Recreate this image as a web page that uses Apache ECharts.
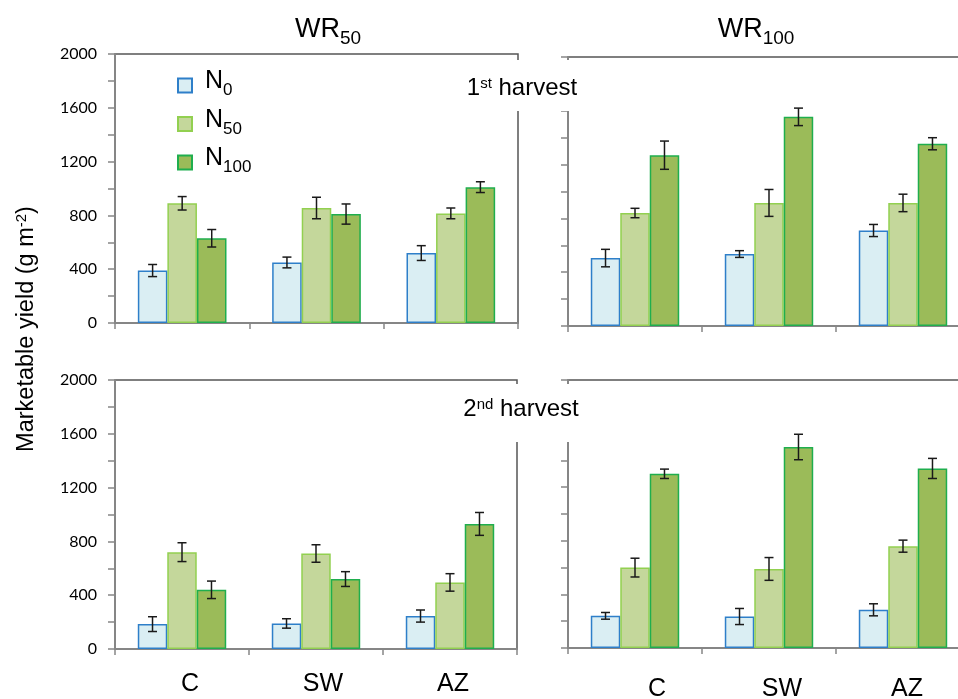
<!DOCTYPE html>
<html>
<head>
<meta charset="utf-8">
<title>Marketable yield</title>
<script src="https://cdn.jsdelivr.net/npm/echarts@6/dist/echarts.min.js"></script>
<style>
  html, body { margin: 0; padding: 0; background: #fff; }
  #chart { width: 958px; height: 699px; }
</style>
</head>
<body>
<div id="chart"></div>
<script>
// categories and N levels
const categories = ['C', 'SW', 'AZ'];
const levels = ['N0', 'N50', 'N100'];

// rows: N0, N50, N100 ; columns: C, SW, AZ
const wr50h1Mean = [[390, 450, 520], [890, 855, 815], [630, 810, 1010]];
const wr50h1Err = [[45, 40, 55], [50, 80, 40], [65, 75, 40]];
const wr100h1Mean = [[505, 535, 710], [840, 915, 915], [1270, 1555, 1355]];
const wr100h1Err = [[65, 25, 45], [35, 100, 65], [105, 65, 45]];
const wr50h2Mean = [[185, 190, 245], [720, 710, 495], [440, 520, 930]];
const wr50h2Err = [[55, 35, 45], [70, 65, 65], [65, 55, 85]];
const wr100h2Mean = [[240, 235, 285], [600, 590, 760], [1300, 1500, 1340]];
const wr100h2Err = [[25, 60, 45], [70, 85, 45], [35, 95, 75]];

const yMax = 2000;
const yStep = 400;

const fills = ['#DAEEF3', '#C4D79B', '#9BBB59'];
const borders = ['#2E7FC9', '#92D050', '#1FAE4E'];
const axisGray = '#868686';
const frameGray = '#555555';
const numFont = 'Lato';
const txtFont = '"Liberation Sans", Arial, sans-serif';

const panels = [
  { mean: wr50h1Mean, err: wr50h1Err, grid: { left: 115, top: 54, width: 403, height: 269 }, yLab: true, xLab: null },
  { mean: wr100h1Mean, err: wr100h1Err, grid: { left: 568, top: 57, width: 402, height: 269 }, yLab: false, xLab: null },
  { mean: wr50h2Mean, err: wr50h2Err, grid: { left: 115, top: 380, width: 402, height: 269 }, yLab: true, xLab: { margin: 23, shift: [16, 14, 6] } },
  { mean: wr100h2Mean, err: wr100h2Err, grid: { left: 568, top: 380, width: 402, height: 268 }, yLab: false, xLab: { margin: 29, shift: [44, 26, 8] } }
];

const BAR_FRAC = 0.22;

function errorItem(params, api) {
  const cat = api.value(0), val = api.value(1), e = api.value(2), k = api.value(3);
  const band = api.size([1, 0])[0];
  const x = api.coord([cat, val])[0] + (k - 1) * band * BAR_FRAC;
  const hi = api.coord([cat, val + e])[1];
  const lo = api.coord([cat, val - e])[1];
  const st = { stroke: '#1a1a1a', lineWidth: 1.5 };
  const cap = 4.5;
  return {
    type: 'group',
    children: [
      { type: 'line', shape: { x1: x, y1: hi, x2: x, y2: lo }, style: st },
      { type: 'line', shape: { x1: x - cap, y1: hi, x2: x + cap, y2: hi }, style: st },
      { type: 'line', shape: { x1: x - cap, y1: lo, x2: x + cap, y2: lo }, style: st }
    ]
  };
}

const grids = [], xAxes = [], yAxes = [], series = [];

panels.forEach(function (p, gi) {
  grids.push(Object.assign({
    show: true, borderColor: frameGray, borderWidth: 1.5,
    backgroundColor: 'transparent', containLabel: false, outerBoundsMode: 'none'
  }, p.grid));

  const xRich = {};
  if (p.xLab) {
    p.xLab.shift.forEach(function (s, i) {
      xRich['c' + i] = { fontSize: 25, fontFamily: txtFont, color: '#000', padding: [0, 0, 0, s] };
    });
  }
  xAxes.push({
    type: 'category', gridIndex: gi, data: categories,
    axisLine: { show: true, lineStyle: { color: axisGray, width: 2 } },
    axisTick: { show: true, length: 6, lineStyle: { color: axisGray, width: 1.5 } },
    axisLabel: p.xLab ? {
      show: true, margin: p.xLab.margin,
      formatter: function (v, i) { return '{c' + i + '|' + v + '}'; },
      rich: xRich
    } : { show: false },
    splitLine: { show: false }
  });

  yAxes.push({
    type: 'value', gridIndex: gi, min: 0, max: yMax, interval: yStep,
    axisLine: { show: true, lineStyle: { color: axisGray, width: 2 } },
    axisTick: { show: true, length: 7, lineStyle: { color: axisGray, width: 1.5 } },
    minorTick: { show: true, splitNumber: 2, length: 7, lineStyle: { color: axisGray, width: 1.5 } },
    axisLabel: {
      show: p.yLab, margin: 18, fontSize: 16, fontFamily: numFont, color: '#000',
      formatter: function (v) { return String(v); }
    },
    splitLine: { show: false },
    minorSplitLine: { show: false }
  });

  levels.forEach(function (name, k) {
    series.push({
      type: 'bar', name: name, xAxisIndex: gi, yAxisIndex: gi,
      data: p.mean[k],
      barWidth: (BAR_FRAC * 100) + '%', barGap: '0%',
      itemStyle: { color: fills[k], borderColor: borders[k], borderWidth: 1.5 },
      emphasis: { disabled: true }
    });
  });

  const errData = [];
  levels.forEach(function (name, k) {
    categories.forEach(function (c, j) {
      errData.push([j, p.mean[k][j], p.err[k][j], k]);
    });
  });
  series.push({
    type: 'custom', xAxisIndex: gi, yAxisIndex: gi, z: 10,
    renderItem: errorItem, encode: { x: 0, y: 1 }, data: errData, silent: true
  });
});

const titleRich = {
  m: { fontSize: 27, fontFamily: txtFont, fill: '#000' },
  s: { fontSize: 19, fontFamily: txtFont, fill: '#000', padding: [18, 0, 0, 0] }
};
const harvRich = {
  n: { fontSize: 24, lineHeight: 24, fontFamily: txtFont, fill: '#000' },
  u: { fontSize: 15, fontFamily: txtFont, fill: '#000', padding: [0, 0, 9, 0] }
};

function label(x, y, text, rich, extra) {
  return Object.assign({
    type: 'text', x: x, y: y, z: 101,
    style: { text: text, align: 'center', verticalAlign: 'middle', fill: '#000', rich: rich }
  }, extra || {});
}

// white patches where the harvest labels sit over the frames
function patch(x, y, w, h) {
  return { type: 'rect', z: 100, shape: { x: x, y: y, width: w, height: h }, style: { fill: '#fff' } };
}

const chart = echarts.init(document.getElementById('chart'), null, { renderer: 'canvas' });
chart.setOption({
  animation: false,
  backgroundColor: '#fff',
  grid: grids,
  xAxis: xAxes,
  yAxis: yAxes,
  series: series,
  legend: {
    data: levels, orient: 'vertical', left: 177, top: 69, padding: 0,
    itemWidth: 14, itemHeight: 14, itemGap: 5.5, icon: 'rect',
    selectedMode: false,
    formatter: function (name) { return '{n|N}{s|' + name.slice(1) + '}'; },
    textStyle: {
      rich: {
        n: { fontSize: 25, lineHeight: 25, fontFamily: txtFont, color: '#000', padding: [0, 0, 8, 8] },
        s: { fontSize: 17, lineHeight: 17, fontFamily: txtFont, color: '#000', padding: [10, 0, 0, 0] }
      }
    }
  },
  graphic: [
    patch(455, 60, 124, 51),
    patch(455, 384, 130, 58),
    label(328, 30, '{m|WR}{s|50}', titleRich),
    label(756, 30, '{m|WR}{s|100}', titleRich),
    label(522, 88, '{n|1}{u|st}{n| harvest}', harvRich),
    label(521, 409, '{n|2}{u|nd}{n| harvest}', harvRich),
    label(27, 329, '{a|Marketable yield (g m}{b|-2}{a|)}', {
      a: { fontSize: 23.5, fontFamily: txtFont, fill: '#000' },
      b: { fontSize: 15, fontFamily: txtFont, fill: '#000', padding: [0, 0, 10, 0] }
    }, { rotation: Math.PI / 2 })
  ]
});
</script>
</body>
</html>
